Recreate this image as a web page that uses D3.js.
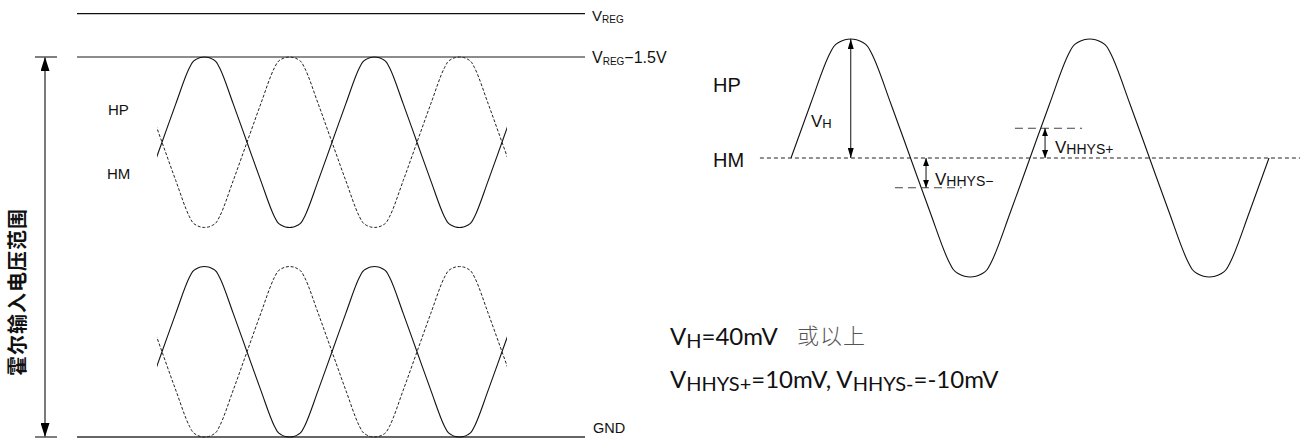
<!DOCTYPE html>
<html><head><meta charset="utf-8">
<script src="https://cdn.jsdelivr.net/npm/d3@7"></script>
<style>
body{margin:0;background:#fff;}
svg{display:block;}
</style></head><body>
<svg id="chart" width="1310" height="439"></svg>
<script>
// ---------------- data ----------------
// one cycle of the Hall signal waveform (phase in cycles, normalized level)
const wavePhase = [0, 0.081, 0.162, 0.179, 0.203, 0.226, 0.25, 0.274, 0.297, 0.321, 0.338, 0.419, 0.5,
                   0.581, 0.662, 0.679, 0.703, 0.726, 0.75, 0.774, 0.797, 0.821, 0.838, 0.919, 1.0];
const waveLevel = [0, 0.45, 0.876, 0.937, 0.975, 0.994, 1, 0.994, 0.975, 0.937, 0.876, 0.45, 0,
                   -0.45, -0.876, -0.937, -0.975, -0.994, -1, -0.994, -0.975, -0.937, -0.876, -0.45, 0];

// left panel: reference levels (V, schematic, not to scale)
const refLevelNames = ["VREG", "VREG−1.5V", "GND"];
const refLevelValues = [3.9, 3.5, 0];
// two example HP/HM pairs: min and max of the swing
const pairMin = [1.93, 0];
const pairMax = [3.5, 1.57];
const leftPhaseRange = [-0.03, 2.03];
const leftSignals = ["HP", "HM"];
const rangeLabel = "霍尔输入电压范围";

// right panel: levels in mV relative to HM
const vH = 40;
const vHHYSplus = 10;
const vHHYSminus = -10;
const rightPhaseRange = [0, 2];
const hysArrowPhase = [1.063, 0.565];        // VHHYS+, VHHYS−
const hysLinePhase = [[0.937, 1.218], [0.435, 0.715]];

// ---------------- drawing ----------------
const svg = d3.select("#chart");
const defs = svg.append("defs");

function addMarker(id, len, wid) {
  defs.append("marker").attr("id", id)
    .attr("viewBox", `0 0 ${len} ${wid}`)
    .attr("refX", len).attr("refY", wid / 2)
    .attr("markerWidth", len).attr("markerHeight", wid)
    .attr("markerUnits", "userSpaceOnUse")
    .attr("orient", "auto-start-reverse")
    .append("path").attr("d", `M0,0L${len},${wid / 2}L0,${wid}Z`).attr("fill", "#000");
}
addMarker("arrBig", 14, 9);
addMarker("arrMid", 10, 6);
addMarker("arrSmall", 8, 6);

function buildPoints(p0, p1) {
  const pts = [];
  for (let k = Math.floor(p0) - 1; k <= Math.ceil(p1); k++) {
    wavePhase.forEach((ph, i) => {
      if (i === wavePhase.length - 1) return;
      const p = k + ph;
      if (p >= p0 - 0.2 && p <= p1 + 0.2) pts.push({p: p, v: waveLevel[i]});
    });
  }
  return pts;
}

// ---- left panel ----
const xL = d3.scaleLinear().domain([0, 2]).range([162, 502]);
const yL = d3.scaleLinear().domain([0, 3.5]).range([437, 57]);

defs.append("clipPath").attr("id", "clipL").append("rect")
  .attr("x", xL(leftPhaseRange[0])).attr("y", 0)
  .attr("width", xL(leftPhaseRange[1]) - xL(leftPhaseRange[0])).attr("height", 439);

const refStyles = [
  {stroke: "#111", w: 1.2},
  {stroke: "#666", w: 1.6},
  {stroke: "#666", w: 2}
];
refLevelValues.forEach((v, i) => {
  svg.append("line").attr("x1", 77).attr("x2", 585)
    .attr("y1", yL(v)).attr("y2", yL(v))
    .attr("stroke", refStyles[i].stroke).attr("stroke-width", refStyles[i].w);
});
const fontA = "Liberation Sans, Arial, sans-serif";
const lab0 = svg.append("text").attr("x", 592).attr("y", yL(refLevelValues[0]) + 7)
  .attr("font-family", fontA).attr("font-size", 15).attr("fill", "#111");
lab0.append("tspan").text("V");
lab0.append("tspan").attr("font-size", 10).attr("dy", 2).text("REG");
const lab1 = svg.append("text").attr("x", 592).attr("y", yL(refLevelValues[1]) + 6)
  .attr("font-family", fontA).attr("font-size", 16).attr("fill", "#111");
lab1.append("tspan").text("V");
lab1.append("tspan").attr("font-size", 10).attr("dy", 2).text("REG");
lab1.append("tspan").attr("dy", -2).text("−1.5V");
svg.append("text").attr("x", 593).attr("y", yL(refLevelValues[2]) - 4)
  .attr("font-family", fontA).attr("font-size", 14.5).attr("fill", "#111")
  .text(refLevelNames[2]);

// left waves
const gL = svg.append("g").attr("clip-path", "url(#clipL)");
const leftPts = buildPoints(leftPhaseRange[0], leftPhaseRange[1]);
pairMin.forEach((mn, j) => {
  const mx = pairMax[j];
  const c = (mn + mx) / 2, a = (mx - mn) / 2;
  leftSignals.forEach((s, si) => {
    const sign = si === 0 ? 1 : -1;
    const line = d3.line().x(d => xL(d.p)).y(d => yL(c + sign * a * d.v)).curve(d3.curveMonotoneX);
    gL.append("path").attr("d", line(leftPts)).attr("fill", "none")
      .attr("stroke", si === 0 ? "#111" : "#222")
      .attr("stroke-width", si === 0 ? 1.1 : 1)
      .attr("stroke-dasharray", si === 0 ? null : "3,1.8");
  });
});
svg.append("text").attr("x", 108).attr("y", 115).attr("font-family", fontA)
  .attr("font-size", 15).attr("fill", "#111").text(leftSignals[0]);
svg.append("text").attr("x", 107).attr("y", 179).attr("font-family", fontA)
  .attr("font-size", 15).attr("fill", "#111").text(leftSignals[1]);

// range arrow
svg.append("line").attr("x1", 45).attr("x2", 45)
  .attr("y1", yL(pairMax[0])).attr("y2", yL(pairMin[1]))
  .attr("stroke", "#222").attr("stroke-width", 1.2)
  .attr("marker-start", "url(#arrBig)").attr("marker-end", "url(#arrBig)");
[pairMax[0], pairMin[1]].forEach(v => {
  svg.append("line").attr("x1", 35).attr("x2", 57).attr("y1", yL(v)).attr("y2", yL(v))
    .attr("stroke", "#555").attr("stroke-width", 1.5);
});
svg.append("text")
  .attr("transform", `translate(25,292) rotate(-90)`)
  .attr("text-anchor", "middle")
  .attr("font-family", "Noto Sans CJK SC, sans-serif").attr("font-weight", "bold")
  .attr("font-size", 20).attr("letter-spacing", 1).attr("fill", "#111")
  .text(rangeLabel);

// ---- right panel ----
const xR = d3.scaleLinear().domain([0, 2]).range([791, 1269]);
const yR = d3.scaleLinear().domain([-vH, vH]).range([277, 39]);

svg.append("line").attr("x1", xR(-0.13)).attr("x2", xR(2.13))
  .attr("y1", yR(0)).attr("y2", yR(0))
  .attr("stroke", "#222").attr("stroke-width", 1).attr("stroke-dasharray", "4,3");

const rightPts = buildPoints(rightPhaseRange[0], rightPhaseRange[1])
  .filter(d => d.p >= rightPhaseRange[0] - 1e-9 && d.p <= rightPhaseRange[1] + 1e-9);
rightPts.push({p: rightPhaseRange[1], v: 0});
const lineR = d3.line().x(d => xR(d.p)).y(d => yR(vH * d.v)).curve(d3.curveMonotoneX);
svg.append("path").attr("d", lineR(rightPts)).attr("fill", "none")
  .attr("stroke", "#111").attr("stroke-width", 1.1);

// hysteresis threshold lines and arrows
[vHHYSplus, vHHYSminus].forEach((v, i) => {
  svg.append("line").attr("x1", xR(hysLinePhase[i][0])).attr("x2", xR(hysLinePhase[i][1]))
    .attr("y1", yR(v)).attr("y2", yR(v))
    .attr("stroke", "#444").attr("stroke-width", 1).attr("stroke-dasharray", "8,5");
  svg.append("line").attr("x1", xR(hysArrowPhase[i])).attr("x2", xR(hysArrowPhase[i]))
    .attr("y1", yR(v)).attr("y2", yR(0))
    .attr("stroke", "#111").attr("stroke-width", 1)
    .attr("marker-start", "url(#arrSmall)").attr("marker-end", "url(#arrSmall)");
});
// VH arrow
svg.append("line").attr("x1", xR(0.25)).attr("x2", xR(0.25))
  .attr("y1", yR(vH)).attr("y2", yR(0))
  .attr("stroke", "#111").attr("stroke-width", 1)
  .attr("marker-start", "url(#arrMid)").attr("marker-end", "url(#arrMid)");

svg.append("text").attr("x", 713).attr("y", 92).attr("font-family", fontA).attr("font-size", 20).attr("fill", "#111").text("HP");
svg.append("text").attr("x", 713).attr("y", 167).attr("font-family", fontA).attr("font-size", 20).attr("fill", "#111").text("HM");

function subLabel(x, y, main, sub, fs, sfs) {
  const t = svg.append("text").attr("x", x).attr("y", y).attr("font-family", fontA)
    .attr("font-size", fs).attr("fill", "#111");
  t.append("tspan").text(main);
  t.append("tspan").attr("font-size", sfs).attr("dy", 1).text(sub);
}
subLabel(811, 127, "V", "H", 17, 13);
subLabel(935, 185, "V", "HHYS−", 17, 14);
subLabel(1055, 153, "V", "HHYS+", 17, 14);

// bottom notes
const fontN = "Lato, 'Open Sans', sans-serif";
const n1 = svg.append("text").attr("x", 670).attr("y", 345).attr("font-family", fontN)
  .attr("font-size", 24).attr("fill", "#111");
n1.append("tspan").text("V");
n1.append("tspan").attr("font-size", 20).attr("dy", 3).text("H");
n1.append("tspan").attr("dy", -3).text(`=${vH}mV`);
svg.append("text").attr("x", 797).attr("y", 344).attr("font-family", "Noto Sans CJK SC, sans-serif")
  .attr("font-size", 22).attr("font-weight", 300).attr("letter-spacing", 1).attr("fill", "#555").text("或以上");
const n2 = svg.append("text").attr("x", 670).attr("y", 388).attr("font-family", fontN)
  .attr("font-size", 24).attr("fill", "#111");
n2.append("tspan").text("V");
n2.append("tspan").attr("font-size", 20).attr("dy", 3).text("HHYS+");
n2.append("tspan").attr("dy", -3).text(`=${vHHYSplus}mV, V`);
n2.append("tspan").attr("font-size", 20).attr("dy", 3).text("HHYS-");
n2.append("tspan").attr("dy", -3).text(`=${vHHYSminus}mV`);
</script>
</body></html>
